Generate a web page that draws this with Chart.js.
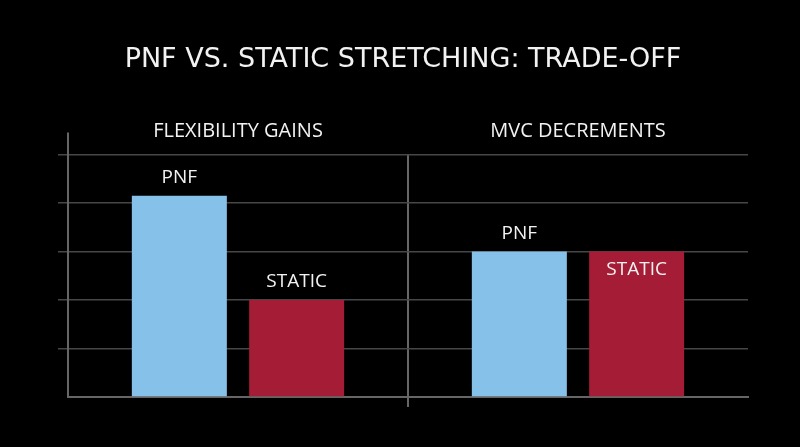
<!doctype html>
<html lang="en">
  <head>
    <meta charset="utf-8">
    <title>PNF vs. Static Stretching: Trade-off</title>
    <style>
      * {
        margin: 0;
        padding: 0;
      }
      body {
        background: #000;
        overflow: hidden;
      }
      .chartBox {
        width: 800px;
        height: 447px;
      }
    </style>
  </head>
  <body>
    <div class="chartBox">
      <canvas id="myChart"></canvas>
    </div>
    <script src="https://cdn.jsdelivr.net/npm/chart.js/dist/chart.umd.min.js"></script>
    <script>
    // data
    const categories = ['FLEXIBILITY GAINS', 'MVC DECREMENTS'];
    const seriesNames = ['PNF', 'STATIC'];
    const pnfValues = [4.15, 3.0];
    const staticValues = [2.0, 3.0];
    const yTicks = [0, 1, 2, 3, 4, 5];

    const textColor = '#f2f2f2';
    const gridColor = '#474747';
    const axisColor = '#666666';

    Chart.defaults.font.family = "'Open Sans', sans-serif";
    Chart.defaults.color = textColor;

    // name labels over each bar (one of them sits inside the bar)
    const barLabels = {
      id: 'barLabels',
      afterDatasetsDraw(chart, args, opts) {
        const ctx = chart.ctx;
        ctx.save();
        ctx.font = opts.size + 'px ' + Chart.defaults.font.family;
        ctx.fillStyle = textColor;
        ctx.textAlign = 'center';
        ctx.textBaseline = 'middle';
        chart.data.datasets.forEach((ds, i) => {
          chart.getDatasetMeta(i).data.forEach((bar, j) => {
            const inside = opts.inside.some(p => p.dataset === i && p.index === j);
            const y = inside ? bar.y + opts.offset : bar.y - opts.offset;
            ctx.fillText(ds.label, bar.x, y);
          });
        });
        ctx.restore();
      }
    };

    // y axis line runs a little above the top grid line
    const axisExtra = {
      id: 'axisExtra',
      afterDraw(chart, args, opts) {
        const {ctx, chartArea} = chart;
        ctx.save();
        ctx.strokeStyle = axisColor;
        ctx.lineWidth = 2;
        ctx.beginPath();
        ctx.moveTo(chartArea.left, chartArea.top - opts.extend);
        ctx.lineTo(chartArea.left, chartArea.top);
        ctx.stroke();
        ctx.restore();
      }
    };

    const data = {
      labels: categories,
      datasets: [{
        label: seriesNames[0],
        data: pnfValues,
        backgroundColor: '#85c1e9',
        xAxisID: 'x'
      }, {
        label: seriesNames[1],
        data: staticValues,
        backgroundColor: '#a51c36',
        xAxisID: 'x'
      }]
    };

    const config = {
      type: 'bar',
      data,
      options: {
        responsive: true,
        maintainAspectRatio: false,
        animation: false,
        categoryPercentage: 0.69,
        barPercentage: 0.81,
        layout: {
          padding: {left: 58, right: 52, top: 0, bottom: 40}
        },
        plugins: {
          legend: { display: false },
          tooltip: { enabled: false },
          title: {
            display: true,
            text: 'PNF VS. STATIC STRETCHING: TRADE-OFF',
            color: textColor,
            font: { family: "'DejaVu Sans', sans-serif", size: 27, weight: 'normal' },
            padding: { top: 44, bottom: 32 }
          },
          barLabels: { size: 19, offset: 18, inside: [{dataset: 1, index: 1}] },
          axisExtra: { extend: 22 }
        },
        scales: {
          x: {
            position: 'bottom',
            offset: true,
            ticks: { display: false },
            grid: {
              offset: true,
              lineWidth: 2,
              tickLength: 10,
              color: c => c.index === 1 ? axisColor : 'transparent'
            },
            border: { color: axisColor, width: 2 }
          },
          xTop: {
            type: 'category',
            position: 'top',
            offset: true,
            grid: { display: false, drawTicks: false },
            border: { display: false },
            ticks: {
              color: textColor,
              padding: 11,
              font: { size: 20 }
            }
          },
          y: {
            min: yTicks[0],
            max: yTicks[yTicks.length - 1],
            ticks: { display: false, stepSize: yTicks[1] - yTicks[0] },
            grid: {
              color: gridColor,
              lineWidth: 1.5,
              tickLength: 10,
              tickColor: c => c.index === 0 ? 'transparent' : gridColor
            },
            border: { color: axisColor, width: 2 }
          }
        }
      },
      plugins: [barLabels, axisExtra]
    };

    const myChart = new Chart(document.getElementById('myChart'), config);
    </script>
  </body>
</html>
